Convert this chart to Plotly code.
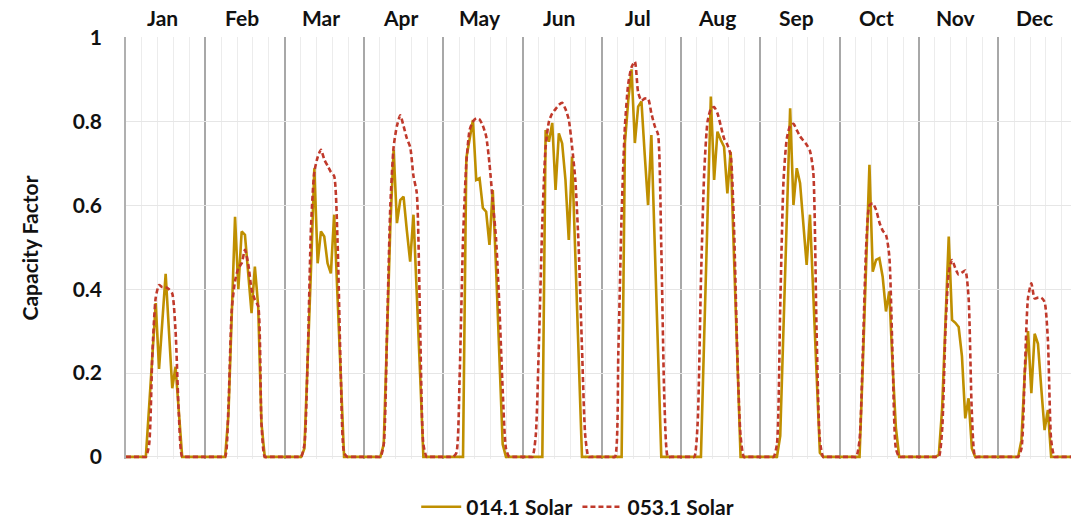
import plotly.graph_objects as go

months = ["Jan", "Feb", "Mar", "Apr", "May", "Jun",
          "Jul", "Aug", "Sep", "Oct", "Nov", "Dec"]
hours_per_month = 24
y_ticks = [0, 0.2, 0.4, 0.6, 0.8, 1]
y_tick_text = ["0", "0.2", "0.4", "0.6", "0.8", "1"]

# 014.1 Solar - average-day hourly capacity factor, one row per month (hours 0..23)
solar_014_1 = [
    [0, 0, 0, 0, 0, 0, 0, 0.12, 0.245, 0.367, 0.21, 0.32, 0.437, 0.30, 0.164, 0.215, 0.10, 0, 0, 0, 0, 0, 0, 0],
    [0, 0, 0, 0, 0, 0, 0, 0.10, 0.35, 0.573, 0.40, 0.538, 0.53, 0.44, 0.343, 0.454, 0.36, 0.08, 0, 0, 0, 0, 0, 0],
    [0, 0, 0, 0, 0, 0, 0.02, 0.22, 0.45, 0.689, 0.462, 0.538, 0.526, 0.462, 0.438, 0.578, 0.37, 0.17, 0, 0, 0, 0, 0, 0],
    [0, 0, 0, 0, 0, 0, 0.03, 0.30, 0.55, 0.733, 0.558, 0.613, 0.621, 0.54, 0.466, 0.578, 0.40, 0.20, 0, 0, 0, 0, 0, 0],
    [0, 0, 0, 0, 0, 0, 0, 0.713, 0.76, 0.804, 0.661, 0.665, 0.594, 0.585, 0.506, 0.637, 0.45, 0.245, 0.03, 0, 0, 0, 0, 0],
    [0, 0, 0, 0, 0, 0, 0, 0.78, 0.752, 0.797, 0.637, 0.772, 0.748, 0.661, 0.518, 0.717, 0.48, 0.24, 0, 0, 0, 0, 0, 0],
    [0, 0, 0, 0, 0, 0, 0, 0.75, 0.85, 0.925, 0.749, 0.836, 0.848, 0.72, 0.601, 0.768, 0.50, 0.25, 0, 0, 0, 0, 0, 0],
    [0, 0, 0, 0, 0, 0, 0, 0.29, 0.57, 0.86, 0.661, 0.776, 0.756, 0.74, 0.629, 0.728, 0.48, 0.24, 0, 0, 0, 0, 0, 0],
    [0, 0, 0, 0, 0, 0, 0.05, 0.32, 0.57, 0.832, 0.601, 0.689, 0.653, 0.561, 0.458, 0.578, 0.39, 0.20, 0.01, 0, 0, 0, 0, 0],
    [0, 0, 0, 0, 0, 0, 0, 0.22, 0.48, 0.697, 0.442, 0.47, 0.474, 0.43, 0.347, 0.395, 0.22, 0.07, 0, 0, 0, 0, 0, 0],
    [0, 0, 0, 0, 0, 0, 0.005, 0.116, 0.32, 0.526, 0.327, 0.32, 0.31, 0.24, 0.092, 0.14, 0.02, 0, 0, 0, 0, 0, 0, 0],
    [0, 0, 0, 0, 0, 0, 0, 0.04, 0.20, 0.30, 0.152, 0.294, 0.27, 0.164, 0.064, 0.112, 0, 0, 0, 0, 0, 0, 0, 0],
]

# 053.1 Solar - average-day hourly capacity factor, one row per month (hours 0..23)
solar_053_1 = [
    [0, 0, 0, 0, 0, 0, 0, 0.03, 0.25, 0.38, 0.41, 0.405, 0.405, 0.40, 0.39, 0.30, 0.10, 0, 0, 0, 0, 0, 0, 0],
    [0, 0, 0, 0, 0, 0, 0, 0.12, 0.35, 0.42, 0.45, 0.462, 0.494, 0.46, 0.40, 0.375, 0.36, 0.08, 0, 0, 0, 0, 0, 0],
    [0, 0, 0, 0, 0, 0, 0.03, 0.24, 0.55, 0.68, 0.715, 0.733, 0.71, 0.695, 0.68, 0.67, 0.52, 0.20, 0.01, 0, 0, 0, 0, 0],
    [0, 0, 0, 0, 0, 0, 0.03, 0.30, 0.60, 0.74, 0.79, 0.815, 0.79, 0.76, 0.74, 0.67, 0.63, 0.32, 0.03, 0, 0, 0, 0, 0],
    [0, 0, 0, 0, 0.01, 0.20, 0.52, 0.70, 0.78, 0.80, 0.808, 0.805, 0.79, 0.765, 0.70, 0.61, 0.52, 0.36, 0.16, 0.02, 0, 0, 0, 0],
    [0, 0, 0, 0, 0.05, 0.28, 0.56, 0.74, 0.80, 0.82, 0.83, 0.84, 0.845, 0.83, 0.805, 0.74, 0.66, 0.50, 0.26, 0.05, 0, 0, 0, 0],
    [0, 0, 0, 0, 0, 0.25, 0.58, 0.79, 0.89, 0.93, 0.943, 0.87, 0.85, 0.855, 0.855, 0.82, 0.79, 0.77, 0.50, 0.12, 0, 0, 0, 0],
    [0, 0, 0, 0, 0, 0.08, 0.42, 0.68, 0.80, 0.83, 0.835, 0.82, 0.79, 0.76, 0.745, 0.72, 0.55, 0.25, 0.05, 0, 0, 0, 0, 0],
    [0, 0, 0, 0, 0, 0.03, 0.36, 0.66, 0.76, 0.79, 0.795, 0.78, 0.765, 0.755, 0.745, 0.73, 0.68, 0.30, 0.04, 0, 0, 0, 0, 0],
    [0, 0, 0, 0, 0, 0, 0.04, 0.25, 0.50, 0.60, 0.605, 0.59, 0.56, 0.54, 0.53, 0.48, 0.24, 0.02, 0, 0, 0, 0, 0, 0],
    [0, 0, 0, 0, 0, 0, 0, 0.065, 0.30, 0.44, 0.47, 0.45, 0.435, 0.44, 0.445, 0.38, 0.104, 0, 0, 0, 0, 0, 0, 0],
    [0, 0, 0, 0, 0, 0, 0, 0.02, 0.20, 0.38, 0.414, 0.378, 0.38, 0.38, 0.37, 0.28, 0.04, 0, 0, 0, 0, 0, 0, 0],
]

# flatten: x is the running hour index across the 12 average days
x_idx = [m * hours_per_month + h for m in range(len(months)) for h in range(hours_per_month)]
y_014 = [v for row in solar_014_1 for v in row]
y_053 = [v for row in solar_053_1 for v in row]

FONT = "Lato"
GOLD = "#BF8F00"
RED = "#C0392B"
TXT = "#111111"

fig = go.Figure()
fig.add_trace(go.Scatter(
    x=x_idx, y=y_014, mode="lines", name="014.1 Solar",
    line=dict(color=GOLD, width=2.6),
))
fig.add_trace(go.Scatter(
    x=x_idx, y=y_053, mode="lines", name="053.1 Solar",
    line=dict(color=RED, width=2.6, dash="5px,3px", shape="spline", smoothing=0.6),
))

# month labels across the top, centred over each average day
for m, name in enumerate(months):
    fig.add_annotation(
        x=m * hours_per_month + 11, xref="x", y=1.047, yref="paper",
        text=name, showarrow=False, xanchor="center", yanchor="middle",
        font=dict(family=FONT, size=21, weight="bold", color=TXT),
    )

x_end = 286.0
fig.update_layout(
    width=1071, height=518,
    margin=dict(l=126, r=0, t=37, b=59, autoexpand=False),
    paper_bgcolor="white", plot_bgcolor="white",
    font=dict(family=FONT, color=TXT),
    showlegend=True,
    legend=dict(
        orientation="h", x=0.478, xanchor="center", y=-0.114, yanchor="middle",
        font=dict(family=FONT, size=21, weight="bold", color=TXT),
        itemwidth=40, tracegroupgap=0,
    ),
    xaxis=dict(
        range=[0, x_end], showticklabels=False, ticks="", automargin=False,
        tick0=0, dtick=hours_per_month,
        showgrid=True, gridcolor="#a8a8a8", gridwidth=1.5,
        minor=dict(tick0=0, dtick=hours_per_month / 5, showgrid=True,
                   gridcolor="#ececec", gridwidth=1),
        zeroline=False, showline=False,
    ),
    yaxis=dict(
        range=[-0.005, 1.002], tickmode="array", tickvals=y_ticks, ticktext=y_tick_text,
        automargin=False,
        showgrid=True, gridcolor="#e6e6e6", gridwidth=1,
        zeroline=False, showline=True, linecolor="#b0b0b0", linewidth=1.5,
        ticks="", ticklabelstandoff=18,
        tickfont=dict(family=FONT, size=21, weight="bold", color=TXT),
        title=dict(text="Capacity Factor", standoff=28,
                   font=dict(family=FONT, size=21, weight="bold", color=TXT)),
    ),
)

# remove the browser's default 8px page margin so the figure fills the window exactly
fig.write_html(
    "out.html",
    config={"displayModeBar": False},
    post_script="document.body.style.margin='0';",
)
